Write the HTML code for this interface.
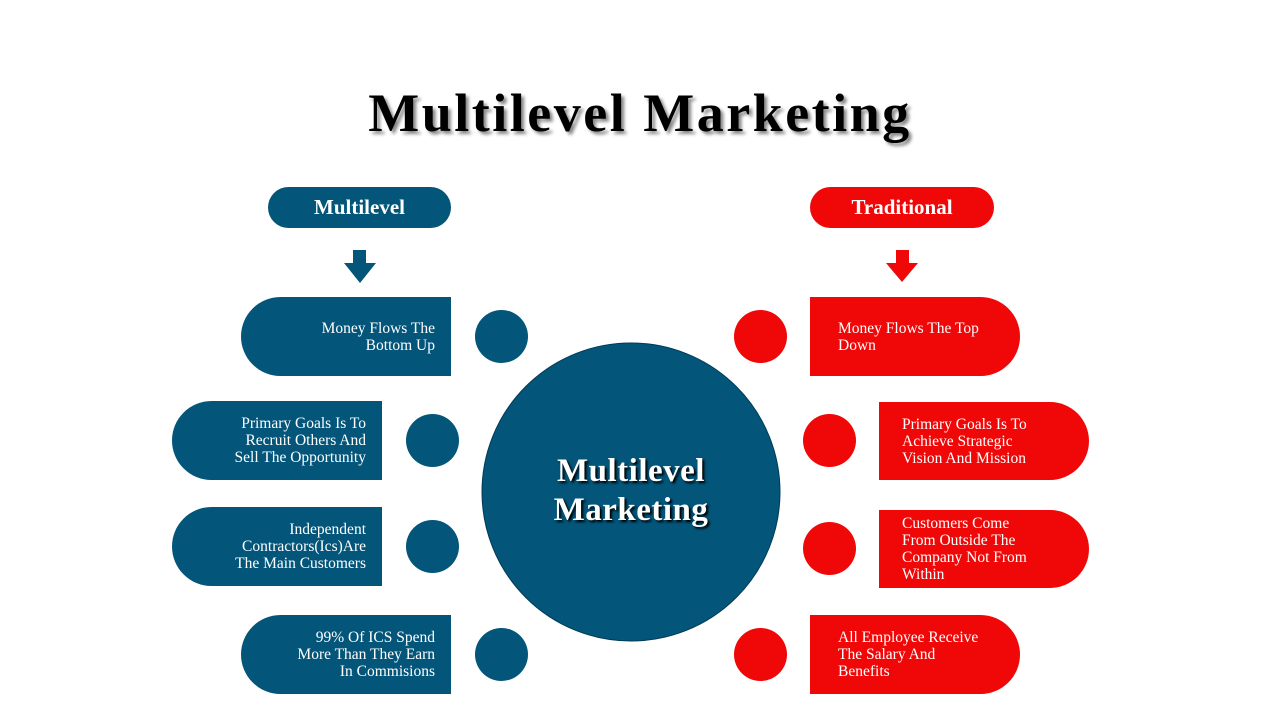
<!DOCTYPE html>
<html><head><meta charset="utf-8"><style>
body{margin:0;width:1280px;height:720px;background:#fff;position:relative;overflow:hidden;font-family:"Liberation Serif",serif}
div{position:absolute;box-sizing:border-box}
.b{background:#03557a}.r{background:#f00707}
.t{color:#fff;font-size:15.5px;line-height:17px;display:flex;align-items:center}
.L{border-radius:40px 0 0 40px;justify-content:flex-end;text-align:right;padding-right:16px}
.R{border-radius:0 40px 40px 0;justify-content:flex-start;text-align:left;padding-left:28px}
.c{width:53px;height:53px;border-radius:50%}
.pill{height:41px;border-radius:21px;color:#fff;font-weight:bold;font-size:21px;display:flex;align-items:center;justify-content:center}
</style></head><body>
<div style="left:0;width:1280px;top:82px;text-align:center;font-size:54px;letter-spacing:2.5px;font-weight:bold;text-shadow:3px 3px 3px #888">Multilevel Marketing</div>
<div class="pill b" style="left:268px;top:187px;width:183px">Multilevel</div>
<div class="pill r" style="left:810px;top:187px;width:184px">Traditional</div>
<svg style="position:absolute;left:0;top:0" width="1280" height="720">
<polygon points="353,250 366,250 366,263 376,263 360,283 344,263 353,263" fill="#03557a"/>
<polygon points="896,250 909,250 909,263 918,263 902,282 886,263 896,263" fill="#f00707"/>
<circle cx="631" cy="492" r="149" fill="#03557a" stroke="#023a55" stroke-width="1"/>
</svg>
<div style="left:482px;top:452px;width:298px;text-align:center;color:#fff;font-weight:bold;font-size:33px;letter-spacing:0.5px;line-height:39px;text-shadow:2px 2px 2px #000">Multilevel<br>Marketing</div>
<div class="t b L" style="left:241px;top:297px;width:210px;height:79px">Money Flows The<br>Bottom Up</div>
<div class="t b L" style="left:172px;top:401px;width:210px;height:79px">Primary Goals Is To<br>Recruit Others And<br>Sell The Opportunity</div>
<div class="t b L" style="left:172px;top:507px;width:210px;height:79px">Independent<br>Contractors(Ics)Are<br>The Main Customers</div>
<div class="t b L" style="left:241px;top:615px;width:210px;height:79px">99% Of ICS Spend<br>More Than They Earn<br>In Commisions</div>
<div class="c b" style="left:475px;top:310px"></div>
<div class="c b" style="left:406px;top:414px"></div>
<div class="c b" style="left:406px;top:520px"></div>
<div class="c b" style="left:475px;top:628px"></div>
<div class="t r R" style="left:810px;top:297px;width:210px;height:79px">Money Flows The Top<br>Down</div>
<div class="t r R" style="left:879px;top:402px;width:210px;height:78px;padding-left:23px">Primary Goals Is To<br>Achieve Strategic<br>Vision And Mission</div>
<div class="t r R" style="left:879px;top:510px;width:210px;height:78px;padding-left:23px">Customers Come<br>From Outside The<br>Company Not From<br>Within</div>
<div class="t r R" style="left:810px;top:615px;width:210px;height:79px">All Employee Receive<br>The Salary And<br>Benefits</div>
<div class="c r" style="left:734px;top:310px"></div>
<div class="c r" style="left:803px;top:414px"></div>
<div class="c r" style="left:803px;top:522px"></div>
<div class="c r" style="left:734px;top:628px"></div>
</body></html>
